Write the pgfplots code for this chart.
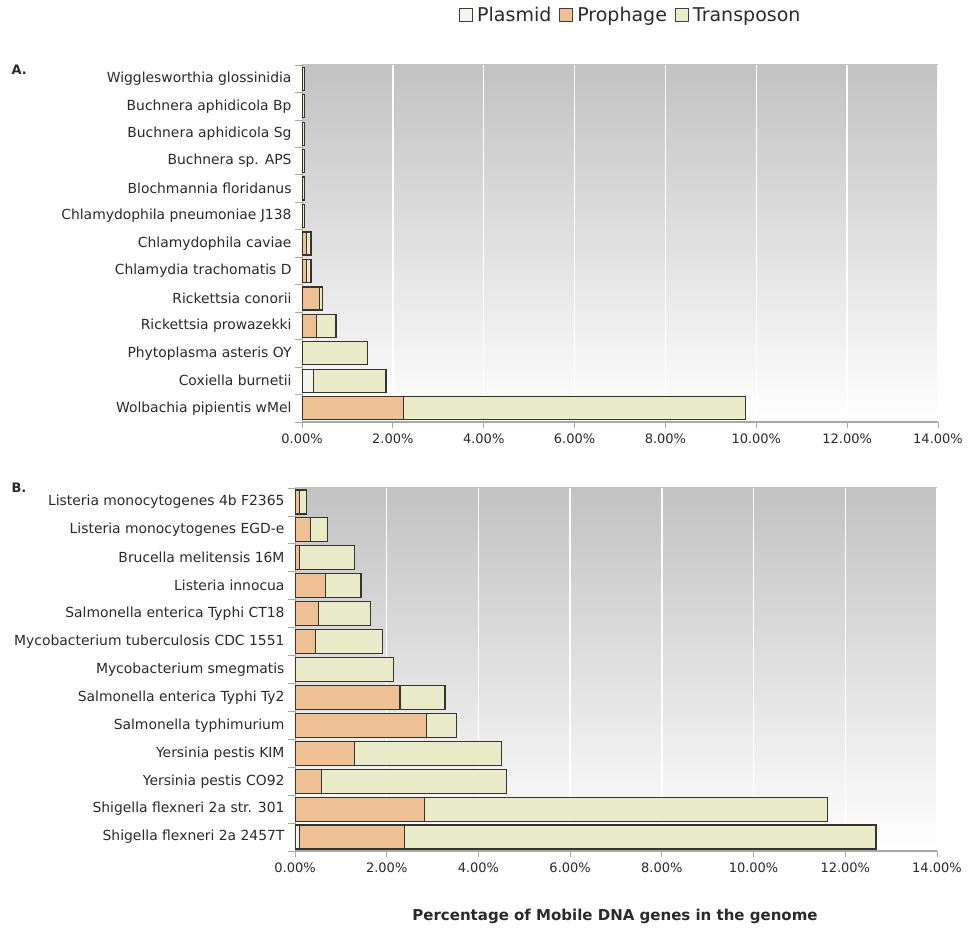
\documentclass[border=0pt]{standalone}
\usepackage{pgfplots}
\pgfplotsset{compat=1.18}
\usepackage{fontspec}
\setmainfont{DejaVu Sans}

\definecolor{plasmid}{HTML}{F4F4EE}
\definecolor{prophage}{HTML}{EFC094}
\definecolor{transposon}{HTML}{E9EBC9}
\definecolor{barline}{HTML}{35352C}
\definecolor{txt}{HTML}{2A2A2A}
\definecolor{bgtop}{HTML}{C2C2C2}
\definecolor{axline}{HTML}{A8A8A8}

\pgfplotsset{
  panel/.style={
    scale only axis,
    xbar stacked,
    xmin=0, xmax=14,
    ymin=-0.5, ymax=12.5,
    xtick={0,2,...,14},
    xticklabels={0.00\%,2.00\%,4.00\%,6.00\%,8.00\%,10.00\%,12.00\%,14.00\%},
    ytick={0,...,12},
    major y tick style={draw=none},
    minor ytick={-0.5,0.5,...,12.5},
    minor y tick style={axline, line width=0.7bp},
    minor tick length=7bp,
    major tick length=6bp,
    tick align=outside,
    axis x line*=bottom, axis y line*=left,
    x axis line style={axline, line width=1.4bp, -},
    y axis line style={axline, line width=1bp, -},
    major x tick style={axline, line width=0.8bp},
    xmajorgrids,
    major grid style={white, line width=1.4bp},
    axis background/.style={shade, top color=bgtop, bottom color=white},
    xticklabel style={font=\fontsize{13bp}{14bp}\selectfont, text=txt, yshift=-2bp},
    yticklabel style={font=\fontsize{13.9bp}{15bp}\selectfont, text=txt, xshift=-1bp},
    every axis plot/.append style={draw=barline, line width=1.2bp},
  }
}

\begin{document}
\begin{tikzpicture}
\useasboundingbox (0,0) rectangle (970bp,934bp);

% Panel A: endosymbionts and obligate intracellular bacteria
\begin{axis}[panel,
  at={(302bp,512bp)}, anchor=south west,
  width=636bp, height=357bp,
  bar width=23bp,
  yticklabels={Wolbachia pipientis wMel, Coxiella burnetii, Phytoplasma asteris OY,
    Rickettsia prowazekki, Rickettsia conorii, Chlamydia trachomatis D,
    Chlamydophila caviae, Chlamydophila pneumoniae J138, Blochmannia floridanus,
    Buchnera sp. APS, Buchnera aphidicola Sg, Buchnera aphidicola Bp,
    Wigglesworthia glossinidia},
  legend style={at={(0.517,1.139)}, anchor=center, draw=none, fill=none,
    legend columns=3, font=\fontsize{19bp}{20bp}\selectfont, text=txt,
    /tikz/every odd column/.append style={column sep=2bp},
    /tikz/every even column/.append style={column sep=6bp}},
  legend image code/.code={\draw[#1, line width=1bp, draw=black!75] (0bp,-6.5bp) rectangle (13bp,6.5bp);},
]
\addplot[fill=plasmid] coordinates {
  (0,0) (0.25,1) (0,2) (0,3) (0,4) (0,5) (0,6) (0,7) (0,8) (0,9) (0,10) (0,11) (0,12)};
\addplot[fill=prophage] coordinates {
  (2.24,0) (0,1) (0,2) (0.32,3) (0.38,4) (0.10,5) (0.10,6) (0,7) (0,8) (0,9) (0,10) (0,11) (0,12)};
\addplot[fill=transposon] coordinates {
  (7.52,0) (1.60,1) (1.45,2) (0.43,3) (0.08,4) (0.10,5) (0.10,6) (0.05,7) (0.05,8) (0.05,9) (0.05,10) (0.05,11) (0.05,12)};
\legend{Plasmid, Prophage, Transposon}
\end{axis}

% Panel B: facultative pathogens
\begin{axis}[panel,
  at={(295bp,83bp)}, anchor=south west,
  width=642bp, height=363bp,
  bar width=24bp,
  yticklabels={Shigella flexneri 2a 2457T, Shigella flexneri 2a str. 301,
    Yersinia pestis CO92, Yersinia pestis KIM, Salmonella typhimurium,
    Salmonella enterica Typhi Ty2, Mycobacterium smegmatis,
    Mycobacterium tuberculosis CDC 1551, Salmonella enterica Typhi CT18,
    Listeria innocua, Brucella melitensis 16M, Listeria monocytogenes EGD-e,
    Listeria monocytogenes 4b F2365},
]
\addplot[fill=plasmid] coordinates {
  (0.10,0) (0,1) (0,2) (0,3) (0,4) (0,5) (0,6) (0,7) (0,8) (0,9) (0,10) (0,11) (0,12)};
\addplot[fill=prophage] coordinates {
  (2.29,0) (2.82,1) (0.58,2) (1.30,3) (2.86,4) (2.29,5) (0,6) (0.44,7) (0.52,8) (0.67,9) (0.10,10) (0.33,11) (0.10,12)};
\addplot[fill=transposon] coordinates {
  (10.28,0) (8.80,1) (4.03,2) (3.20,3) (0.67,4) (0.98,5) (2.14,6) (1.46,7) (1.12,8) (0.77,9) (1.19,10) (0.37,11) (0.15,12)};
\end{axis}

\node[anchor=west, font=\fontsize{13bp}{15bp}\selectfont\bfseries, text=txt] at (8bp,864bp) {A.};
\node[anchor=west, font=\fontsize{13bp}{15bp}\selectfont\bfseries, text=txt] at (8bp,446bp) {B.};
\node[font=\fontsize{15bp}{17bp}\selectfont\bfseries, text=txt] at (615bp,18bp) {Percentage of Mobile DNA genes in the genome};
\end{tikzpicture}
\end{document}
